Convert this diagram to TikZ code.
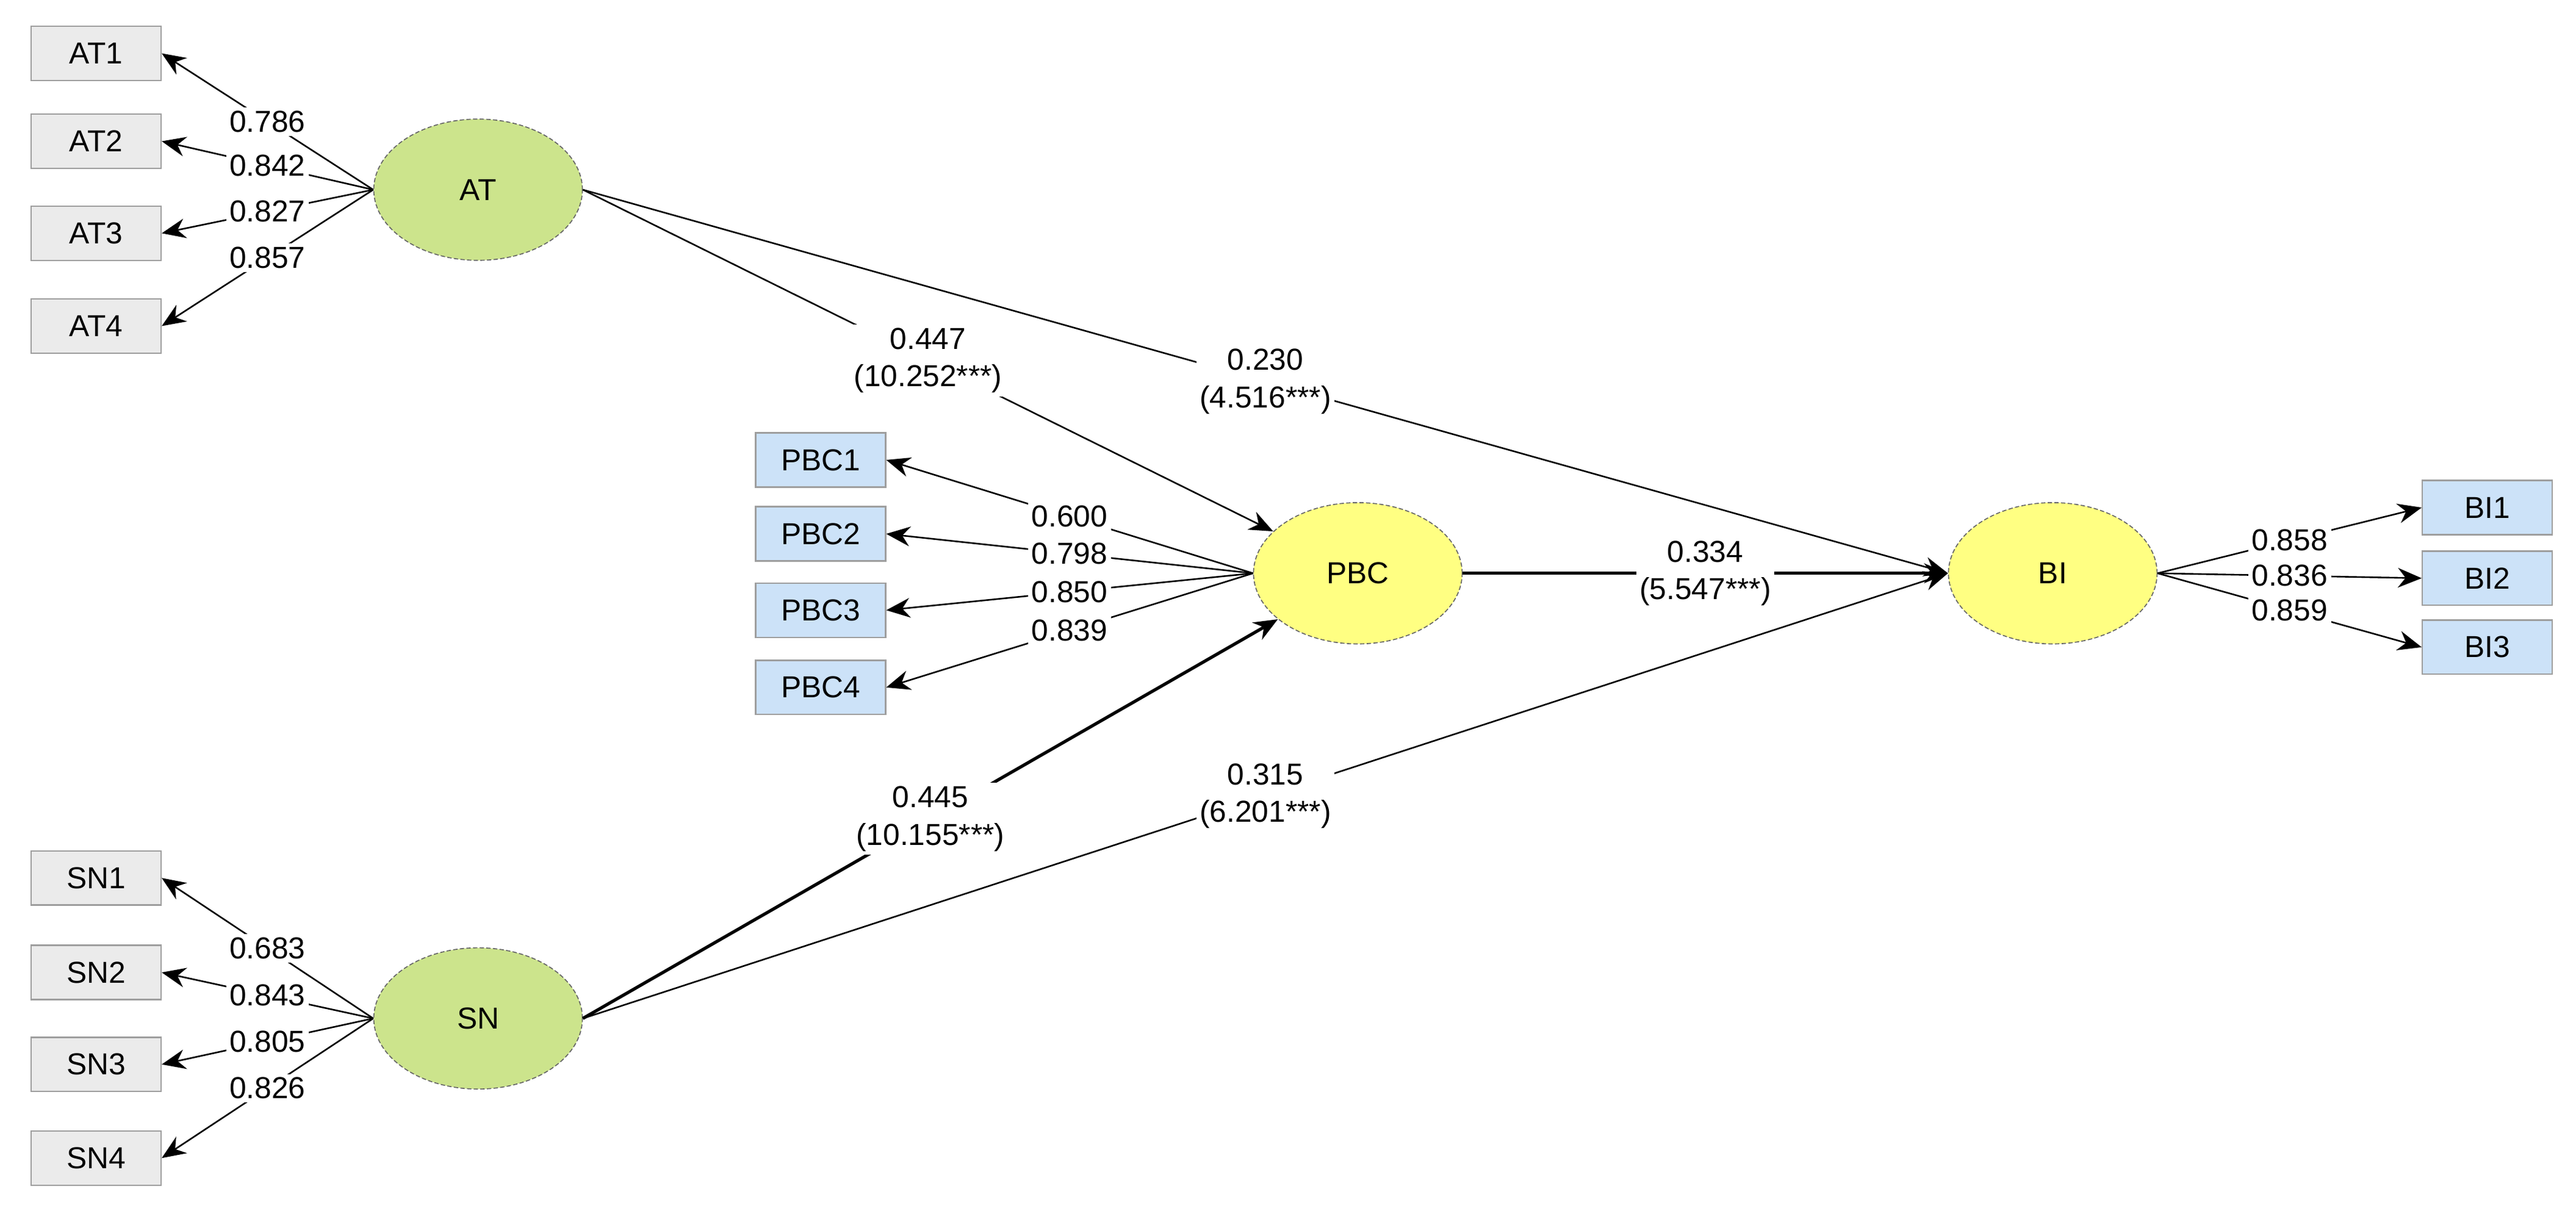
\documentclass[tikz,border=0pt]{standalone}
\usepackage{fontspec}
\setmainfont{Liberation Sans}
\usetikzlibrary{arrows.meta,shapes.geometric}

\definecolor{latgreen}{RGB}{204,228,140}
\definecolor{latyellow}{RGB}{255,255,130}
\definecolor{indgray}{RGB}{235,235,235}
\definecolor{indblue}{RGB}{204,226,248}

\tikzset{
    latent/.style={ellipse, draw=black!60, dash pattern=on 1.5pt off 0.8pt, line width=0.35pt,
        minimum width=25.4mm, minimum height=17.2mm, inner sep=0pt},
    indicator/.style={rectangle, draw=black!38, line width=0.5pt,
        minimum width=15.8mm, minimum height=6.6mm, inner sep=0pt},
    loading/.style={->, line width=0.55pt},
    coef/.style={midway, fill=white, inner sep=1.2pt, align=center}
}

\begin{document}
\begin{tikzpicture}[x=0.2mm, y=-0.2mm, font=\fontsize{10.5pt}{13pt}\selectfont,
    >={Stealth[length=2.9mm,width=2.4mm]}]
    \useasboundingbox (0,0) rectangle (1568,739);

    % Draw latent variables
    \node[latent, fill=latgreen] (AT) at (291,115.5) {AT};
    \node[latent, fill=latgreen] (SN) at (291,620) {SN};
    \node[latent, fill=latyellow] (PBC) at (826.5,349) {PBC};
    \node[latent, fill=latyellow] (BI) at (1249.5,349) {BI};

    % Draw structural paths
    \draw[->, line width=0.55pt] (AT.east) -- (PBC) node[coef] {0.447\\(10.252***)};
    \draw[->, line width=0.55pt] (AT.east) -- (BI.west) node[coef] {0.230\\(4.516***)};
    \draw[->, line width=1.1pt] (PBC.east) -- (BI.west) node[coef] {0.334\\(5.547***)};
    \draw[->, line width=1.1pt] (SN.east) -- (PBC) node[coef] {0.445\\(10.155***)};
    \draw[->, line width=0.55pt] (SN.east) -- (BI.west) node[coef] {0.315\\(6.201***)};

    % Draw indicators with loadings
    \foreach \i/\y/\l in {1/32.5/0.786, 2/86/0.842, 3/142/0.827, 4/198.5/0.857} {
        \node[indicator, fill=indgray] (AT\i) at (58.5,\y) {AT\i};
        \draw[loading] (AT.west) -- (AT\i.east) node[coef] {\l};
    }
    \foreach \i/\y/\l in {1/534.5/0.683, 2/592/0.843, 3/648/0.805, 4/705/0.826} {
        \node[indicator, fill=indgray] (SN\i) at (58.5,\y) {SN\i};
        \draw[loading] (SN.west) -- (SN\i.east) node[coef] {\l};
    }
    \foreach \i/\y/\l in {1/280/0.600, 2/325/0.798, 3/371.5/0.850, 4/418.5/0.839} {
        \node[indicator, fill=indblue] (PBC\i) at (499.5,\y) {PBC\i};
        \draw[loading] (PBC.west) -- (PBC\i.east) node[coef] {\l};
    }
    \foreach \i/\y/\l in {1/309/0.858, 2/352/0.836, 3/394/0.859} {
        \node[indicator, fill=indblue] (BI\i) at (1514,\y) {BI\i};
        \draw[loading] (BI.east) -- (BI\i.west) node[coef] {\l};
    }
\end{tikzpicture}
\end{document}
